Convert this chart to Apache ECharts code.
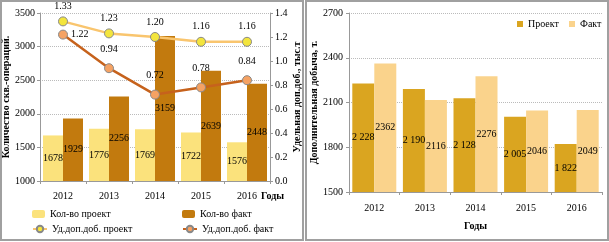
<!DOCTYPE html>
<html>
<head>
<meta charset="utf-8">
<script src="https://cdn.jsdelivr.net/npm/echarts@6/dist/echarts.min.js"></script>
<style>
  html, body { margin: 0; padding: 0; background: #fff; }
  #main { width: 609px; height: 242px; }
</style>
</head>
<body>
<div id="main"></div>
<script>
// данные
var years = ['2012', '2013', '2014', '2015', '2016'];
var cntProject = [1678, 1776, 1769, 1722, 1576];   // Кол-во проект
var cntFact = [1929, 2256, 3159, 2639, 2448];      // Кол-во факт
var effProject = [1.33, 1.23, 1.20, 1.16, 1.16];   // Уд.доп.доб. проект
var effFact = [1.22, 0.94, 0.72, 0.78, 0.84];      // Уд.доп.доб. факт
var addProject = [2228, 2190, 2128, 2005, 1822];   // Проект
var addFact = [2362, 2116, 2276, 2046, 2049];      // Факт

var FONT = 'Liberation Serif';
var txt = { fontFamily: FONT, fontSize: 10, color: '#000' };
var boldTxt = { fontFamily: FONT, fontSize: 10, fontWeight: 'bold', color: '#000' };

function spaced(v) {
  var s = String(v);
  return s.length > 3 ? s.slice(0, s.length - 3) + ' ' + s.slice(-3) : s;
}
function plain(v) { return String(v); }

// первая точка факта - подпись справа
var effFactData = effFact.map(function (v, i) {
  return i === 0 ? { value: v, label: { position: 'right', distance: 3 } } : v;
});

var myChart = echarts.init(document.getElementById('main'));

var axisLine = { show: true, lineStyle: { color: '#999' } };
var axisTick = { show: true, length: 3, lineStyle: { color: '#999' } };
var gridLine = { show: true, lineStyle: { color: '#bbb', type: 'dotted' } };

// одна легенда на каждый элемент, чтобы поставить их точно
function oneLegend(name, left, top, w, h, icon) {
  var l = {
    left: left, top: top, orient: 'horizontal', padding: 0,
    itemWidth: w, itemHeight: h, itemGap: 4, textStyle: txt,
    data: [name]
  };
  if (icon) l.icon = icon;
  return l;
}

var option = {
  animation: false,
  textStyle: { fontFamily: FONT },
  grid: [
    { left: 40, right: 339, top: 13, bottom: 61 },
    { left: 349, right: 7, top: 13, bottom: 50 }
  ],
  legend: [
    oneLegend('Кол-во проект', 32, 209, 13, 8),
    oneLegend('Кол-во факт', 182, 209, 13, 8),
    oneLegend('Уд.доп.доб. проект', 32, 224, 14, 8),
    oneLegend('Уд.доп.доб. факт', 182, 224, 14, 8),
    oneLegend('Проект', 517, 19, 6, 6, 'rect'),
    oneLegend('Факт', 569, 19, 6, 6, 'rect')
  ],
  xAxis: [
    {
      type: 'category', gridIndex: 0, data: years,
      axisLine: axisLine, axisTick: axisTick,
      axisLabel: Object.assign({ margin: 10 }, txt)
    },
    {
      type: 'category', gridIndex: 1, data: years,
      axisLine: axisLine, axisTick: axisTick,
      axisLabel: Object.assign({ margin: 11 }, txt),
      name: 'Годы', nameLocation: 'middle', nameGap: 29,
      nameTextStyle: boldTxt
    }
  ],
  yAxis: [
    {
      type: 'value', gridIndex: 0, min: 1000, max: 3500, interval: 500,
      axisLine: axisLine, axisTick: axisTick, splitLine: gridLine,
      axisLabel: Object.assign({ margin: 5, formatter: plain }, txt),
      name: 'Количество скв.-операций.', nameLocation: 'middle', nameGap: 28, nameRotate: 90,
      nameTextStyle: boldTxt
    },
    {
      type: 'value', gridIndex: 0, position: 'right', min: 0, max: 1.4, interval: 0.2,
      axisLine: axisLine, axisTick: axisTick, splitLine: { show: false },
      axisLabel: Object.assign({ margin: 5, formatter: function (v) { return v.toFixed(1); } }, txt),
      name: 'Удельная доп.доб., тыс.т', nameLocation: 'middle', nameGap: 22, nameRotate: 90,
      nameTextStyle: boldTxt
    },
    {
      type: 'value', gridIndex: 1, min: 1500, max: 2700, interval: 300,
      axisLine: axisLine, axisTick: axisTick, splitLine: gridLine,
      axisLabel: Object.assign({ margin: 6, formatter: plain }, txt),
      name: 'Дополнительная добыча, т.', nameLocation: 'middle', nameGap: 23, nameRotate: 90,
      nameTextStyle: boldTxt
    }
  ],
  graphic: [
    { type: 'rect', shape: { x: 1, y: 1, width: 302, height: 239 },
      style: { fill: 'none', stroke: '#a0a0a0', lineWidth: 2 } },
    { type: 'rect', shape: { x: 306, y: 1, width: 302, height: 239 },
      style: { fill: 'none', stroke: '#a0a0a0', lineWidth: 2 } },
    { type: 'text', left: 261, top: 191,
      style: { text: 'Годы', fontFamily: FONT, fontSize: 10, fontWeight: 'bold', fill: '#000' } }
  ],
  series: [
    {
      name: 'Кол-во проект', type: 'bar', xAxisIndex: 0, yAxisIndex: 0,
      data: cntProject, barWidth: 20, barGap: 0,
      itemStyle: { color: '#fbe27c' },
      label: Object.assign({ show: true, position: 'inside' }, txt)
    },
    {
      name: 'Кол-во факт', type: 'bar', xAxisIndex: 0, yAxisIndex: 0,
      data: cntFact, barWidth: 20, barGap: 0,
      itemStyle: { color: '#c27a0e' },
      label: Object.assign({ show: true, position: 'inside' }, txt)
    },
    {
      name: 'Уд.доп.доб. проект', type: 'line', xAxisIndex: 0, yAxisIndex: 1,
      data: effProject, symbol: 'circle', symbolSize: 9, z: 5,
      lineStyle: { color: '#f9c56e', width: 2.5 },
      itemStyle: { color: '#f3e53c', borderColor: '#888', borderWidth: 1 },
      label: Object.assign({ show: true, position: 'top', distance: 5,
        formatter: function (p) { return p.value.toFixed(2); } }, txt)
    },
    {
      name: 'Уд.доп.доб. факт', type: 'line', xAxisIndex: 0, yAxisIndex: 1,
      data: effFactData, symbol: 'circle', symbolSize: 9, z: 5,
      lineStyle: { color: '#c6621c', width: 2.5 },
      itemStyle: { color: '#f5a263', borderColor: '#888', borderWidth: 1 },
      label: Object.assign({ show: true, position: 'top', distance: 9,
        formatter: function (p) { return Number(p.value).toFixed(2); } }, txt)
    },
    {
      name: 'Проект', type: 'bar', xAxisIndex: 1, yAxisIndex: 2,
      data: addProject, barWidth: 22, barGap: 0,
      itemStyle: { color: '#daa520' },
      label: Object.assign({ show: true, position: 'inside',
        formatter: function (p) { return spaced(p.value); } }, txt)
    },
    {
      name: 'Факт', type: 'bar', xAxisIndex: 1, yAxisIndex: 2,
      data: addFact, barWidth: 22, barGap: 0,
      itemStyle: { color: '#fad38c' },
      label: Object.assign({ show: true, position: 'inside' }, txt)
    }
  ]
};

myChart.setOption(option);
</script>
</body>
</html>
